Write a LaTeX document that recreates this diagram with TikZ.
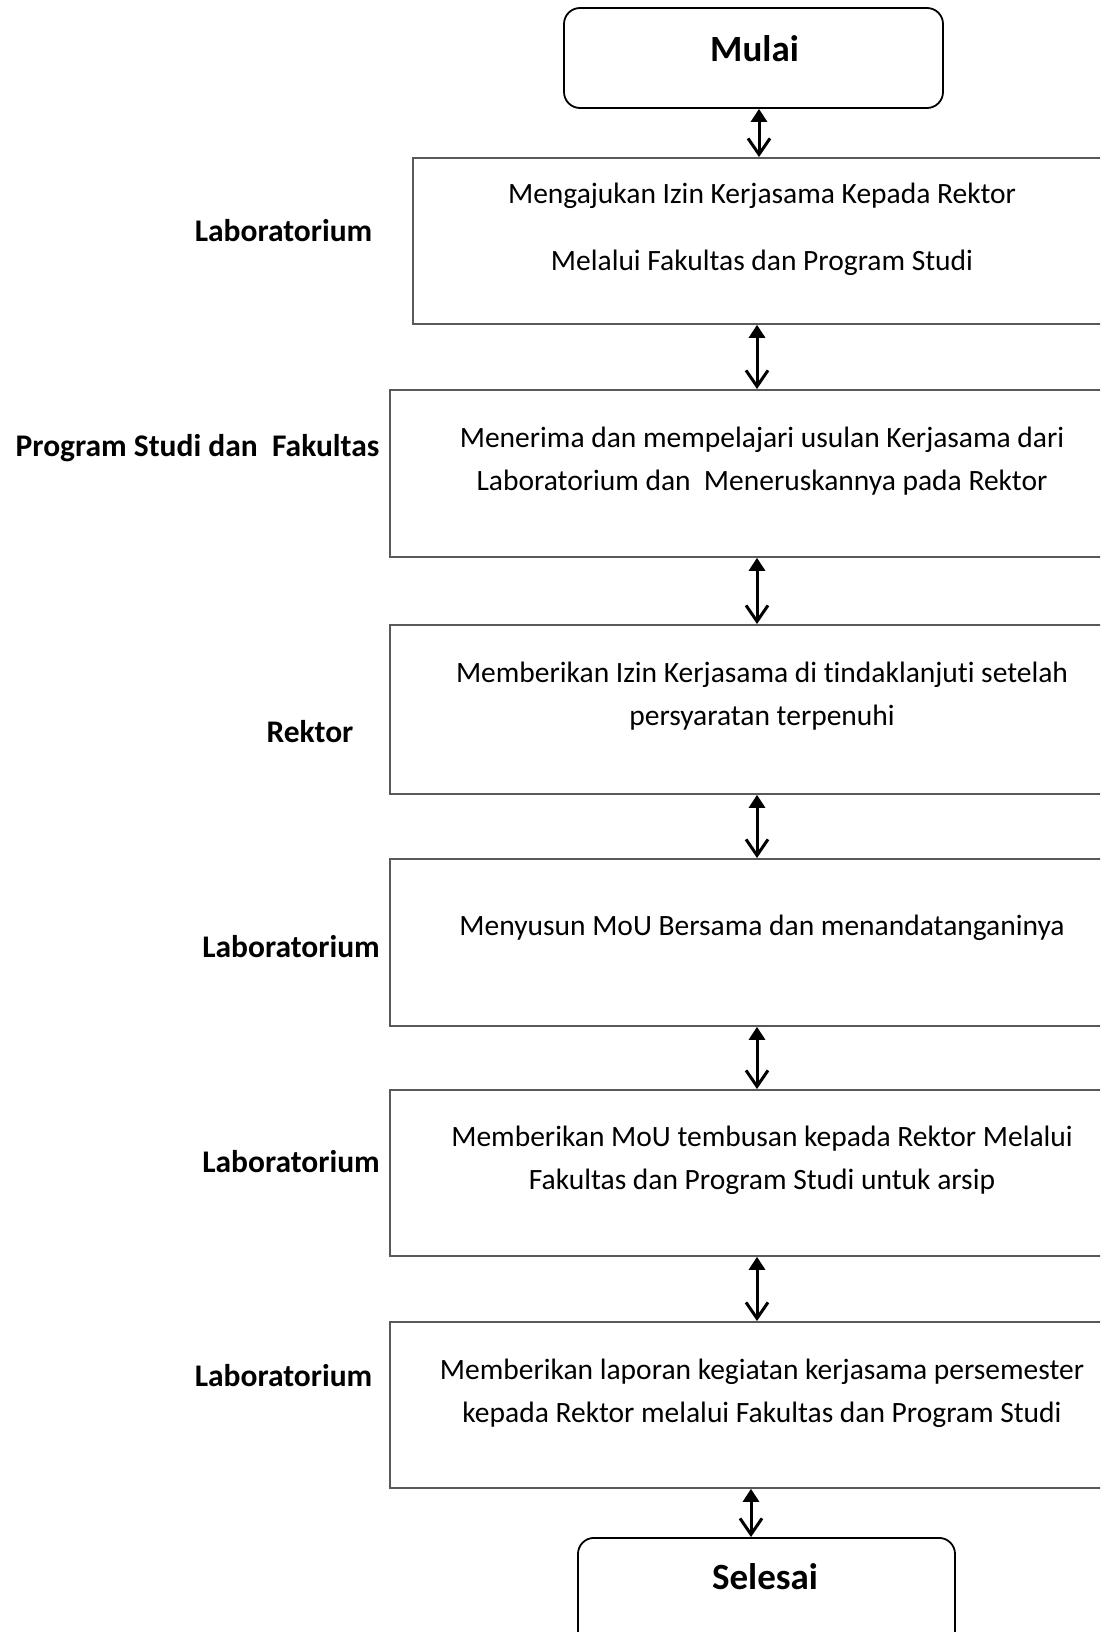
\documentclass[tikz,border=0pt]{standalone}
\usepackage{fontspec}
\setmainfont{Carlito}[Ligatures=NoCommon]
\usetikzlibrary{arrows.meta}
\begin{document}
\begin{tikzpicture}[x=1pt,y=-1pt,
  procbox/.style={draw=black!65, line width=1.8pt, minimum width=760pt, anchor=north west},
  termbox/.style={draw=black, line width=1.8pt, rounded corners=16pt},
  body/.style={font=\fontsize{29.5}{43}\selectfont, align=center, inner sep=0pt},
  lab/.style={font=\fontsize{31.5}{34}\selectfont\bfseries, inner sep=0pt},
  term/.style={font=\fontsize{37}{42}\selectfont\bfseries, inner sep=0pt},
  arr/.style={line width=3pt, {Triangle[length=13pt,width=16pt]}-{Straight Barb[length=16pt,width=22pt,line width=3pt]}}
]
\useasboundingbox (0,0) rectangle (1100,1632);
\clip (0,0) rectangle (1100,1632);
\fill[white] (0,0) rectangle (1100,1632);

% terminals
\node[termbox, minimum width=379pt, minimum height=100pt] (mulai) at (753.5,58) {};
\node[term] (tmulai) at (754.5,49) {Mulai};
\node[termbox, minimum width=377pt, minimum height=130pt, anchor=north] (selesai) at (766.5,1537) {};
\node[term] (tselesai) at (765,1577) {Selesai};

% process boxes
\node[procbox, minimum height=166pt] (b1) at (412,157) {};
\node[procbox, minimum height=167pt] (b2) at (389,389) {};
\node[procbox, minimum height=169pt] (b3) at (389,624) {};
\node[procbox, minimum height=167pt] (b4) at (389,858) {};
\node[procbox, minimum height=166pt] (b5) at (389,1089) {};
\node[procbox, minimum height=166pt] (b6) at (389,1321) {};

% box texts
\node[body, font=\fontsize{29.5}{67}\selectfont] (t1) at (762,229) {Mengajukan Izin Kerjasama Kepada Rektor\\Melalui Fakultas dan Program Studi};
\node[body] (t2) at (762,461.5) {Menerima dan mempelajari usulan Kerjasama dari\\Laboratorium dan\ \ Meneruskannya pada Rektor};
\node[body] (t3) at (762,696.5) {Memberikan Izin Kerjasama di tindaklanjuti setelah\\persyaratan terpenuhi};
\node[body] (t4) at (762,928) {Menyusun MoU Bersama dan menandatanganinya};
\node[body] (t5) at (762,1160.5) {Memberikan MoU tembusan kepada Rektor Melalui\\Fakultas dan Program Studi untuk arsip};
\node[body] (t6) at (762,1393.5) {Memberikan laporan kegiatan kerjasama persemester\\kepada Rektor melalui Fakultas dan Program Studi};

% lane labels
\node[lab] (l1) at (283.5,231) {Laboratorium};
\node[lab] (l2) at (197.5,448) {Program Studi dan\ \ Fakultas};
\node[lab] (l3) at (310,732) {Rektor};
\node[lab] (l4) at (291,947) {Laboratorium};
\node[lab] (l5) at (291,1162) {Laboratorium};
\node[lab] (l6) at (283.5,1376) {Laboratorium};

% connectors
\coordinate (xa) at (759,0);
\coordinate (xb) at (757,0);
\coordinate (xc) at (751,0);
\draw[arr] (mulai.south -| xa) -- (b1.north -| xa);
\draw[arr] (b1.south -| xb) -- (b2.north -| xb);
\draw[arr] (b2.south -| xb) -- (b3.north -| xb);
\draw[arr] (b3.south -| xb) -- (b4.north -| xb);
\draw[arr] (b4.south -| xb) -- (b5.north -| xb);
\draw[arr] (b5.south -| xb) -- (b6.north -| xb);
\draw[arr] (b6.south -| xc) -- (selesai.north -| xc);
\end{tikzpicture}
\end{document}
